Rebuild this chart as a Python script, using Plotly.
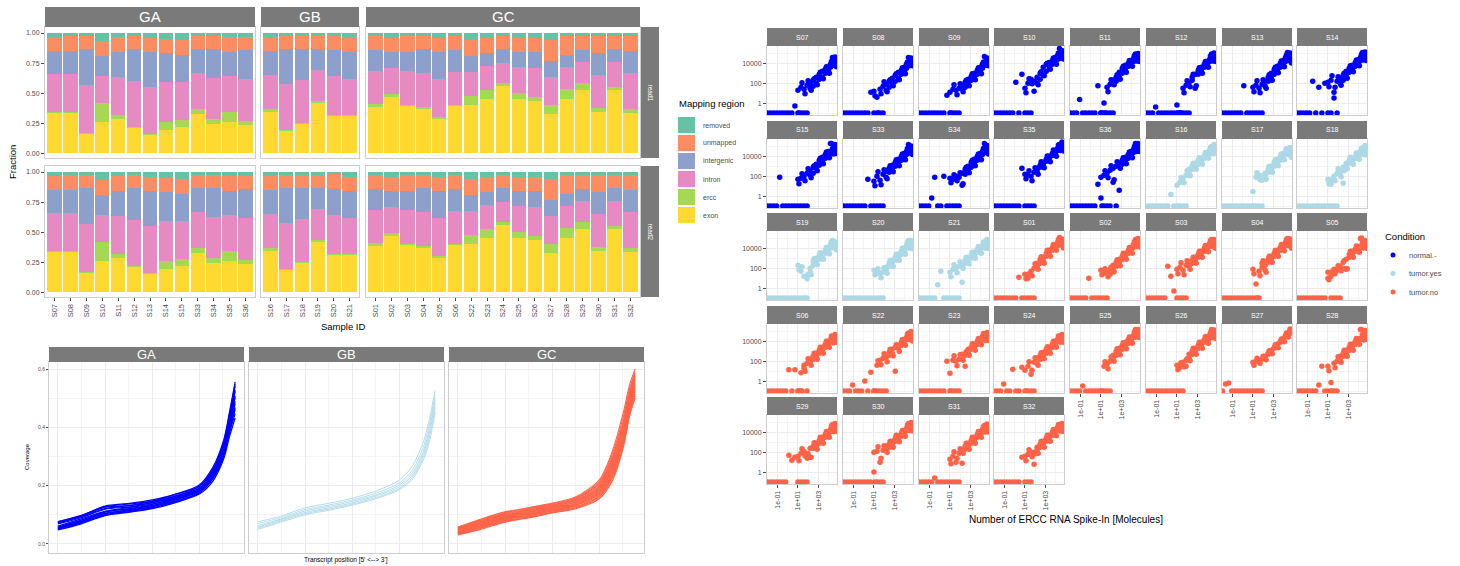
import plotly.graph_objects as go

W, H = 1460, 566
FONT = "Liberation Sans, Arial, sans-serif"
TICK_COL = "#4D4D4D"
STRIP_COL = "#7A7A7A"
BORDER_COL = "#CDCDCD"
GRID_COL = "#EBEBEB"
MINOR_COL = "#F4F4F4"

# ---------------- Mapping region fractions (read1 and read2 identical) ----------------
ga_samples = ["S07", "S08", "S09", "S10", "S11", "S12", "S13", "S14", "S15", "S33", "S34", "S35", "S36"]
gb_samples = ["S16", "S17", "S18", "S19", "S20", "S21"]
gc_samples = ["S01", "S02", "S03", "S04", "S05", "S06", "S22", "S23", "S24", "S25", "S26", "S27",
              "S28", "S29", "S30", "S31", "S32"]
read_rows = ["read1", "read2"]

exon = [.337, .337, .166, .260, .282, .213, .152, .193, .218, .330, .246, .260, .232,
        .345, .185, .250, .415, .315, .310,
        .383, .467, .397, .372, .290, .400, .400, .455, .558, .453, .433, .322, .453, .525, .344, .525, .336]
ercc = [.008, .008, .005, .160, .033, .007, .011, .067, .058, .040, .041, .080, .036,
        .020, .008, .004, .020, .005, .008,
        .027, .023, .008, .014, .010, .005, .075, .075, .022, .044, .037, .083, .083, .061, .028, .028, .034]
intron = [.310, .310, .400, .220, .320, .380, .387, .330, .314, .298, .340, .300, .352,
          .285, .384, .354, .255, .320, .302,
          .273, .220, .278, .284, .314, .270, .200, .195, .173, .220, .235, .231, .181, .175, .275, .208, .300]
intergenic = [.199, .199, .300, .170, .205, .270, .290, .240, .230, .199, .240, .205, .240,
              .204, .290, .262, .177, .217, .220,
              .172, .135, .162, .200, .231, .183, .135, .111, .111, .128, .137, .131, .097, .094, .183, .109, .180]
unmapped = [.116, .118, .108, .126, .127, .108, .120, .120, .120, .105, .105, .118, .110,
            .116, .111, .108, .105, .123, .120,
            .117, .115, .127, .105, .115, .117, .130, .124, .111, .115, .118, .175, .158, .120, .145, .102, .125]
removed = [.030, .028, .021, .064, .033, .022, .040, .050, .060, .028, .028, .037, .030,
           .030, .022, .022, .028, .020, .040,
           .028, .040, .028, .025, .040, .025, .060, .040, .025, .040, .040, .058, .028, .025, .025, .028, .025]

region_order = ["exon", "ercc", "intron", "intergenic", "unmapped", "removed"]
region_values = {"exon": exon, "ercc": ercc, "intron": intron, "intergenic": intergenic,
                 "unmapped": unmapped, "removed": removed}
region_colors = {"removed": "#66C2A5", "unmapped": "#FC8D62", "intergenic": "#8DA0CB",
                 "intron": "#E78AC3", "ercc": "#A6D854", "exon": "#FFD92F"}
legend_order = ["removed", "unmapped", "intergenic", "intron", "ercc", "exon"]

# ---------------- Gene body coverage ----------------
cov_x = [0, 12, 25, 38, 50, 62, 75, 82, 88, 91, 94]
cov_GA = [
    [0.048, 0.068, 0.097, 0.109, 0.121, 0.141, 0.171, 0.214, 0.293, 0.368, 0.432],
    [0.050, 0.071, 0.101, 0.111, 0.124, 0.144, 0.175, 0.221, 0.302, 0.381, 0.447],
    [0.052, 0.073, 0.099, 0.115, 0.128, 0.146, 0.177, 0.223, 0.306, 0.386, 0.462],
    [0.053, 0.076, 0.105, 0.114, 0.127, 0.150, 0.181, 0.228, 0.309, 0.392, 0.468],
    [0.055, 0.077, 0.104, 0.118, 0.132, 0.151, 0.183, 0.231, 0.316, 0.398, 0.481],
    [0.056, 0.081, 0.109, 0.121, 0.131, 0.154, 0.183, 0.232, 0.321, 0.407, 0.489],
    [0.058, 0.080, 0.111, 0.120, 0.136, 0.155, 0.187, 0.237, 0.324, 0.412, 0.503],
    [0.061, 0.085, 0.112, 0.125, 0.137, 0.158, 0.188, 0.240, 0.331, 0.418, 0.508],
    [0.069, 0.089, 0.119, 0.127, 0.141, 0.159, 0.191, 0.243, 0.334, 0.427, 0.522],
    [0.072, 0.093, 0.121, 0.131, 0.142, 0.163, 0.192, 0.246, 0.342, 0.431, 0.528],
    [0.073, 0.094, 0.126, 0.132, 0.146, 0.164, 0.197, 0.251, 0.344, 0.438, 0.541],
    [0.076, 0.097, 0.127, 0.137, 0.147, 0.169, 0.198, 0.254, 0.352, 0.446, 0.548],
    [0.077, 0.096, 0.130, 0.139, 0.151, 0.170, 0.202, 0.261, 0.358, 0.452, 0.556],
]
cov_GB = [
    [0.050, 0.074, 0.100, 0.116, 0.133, 0.154, 0.186, 0.222, 0.292, 0.352, 0.452],
    [0.054, 0.078, 0.104, 0.120, 0.137, 0.158, 0.190, 0.229, 0.302, 0.366, 0.468],
    [0.058, 0.082, 0.108, 0.124, 0.141, 0.163, 0.196, 0.236, 0.312, 0.381, 0.483],
    [0.063, 0.085, 0.113, 0.129, 0.146, 0.167, 0.202, 0.244, 0.323, 0.396, 0.497],
    [0.070, 0.090, 0.118, 0.134, 0.151, 0.173, 0.209, 0.254, 0.338, 0.412, 0.512],
    [0.076, 0.095, 0.124, 0.140, 0.157, 0.180, 0.219, 0.268, 0.355, 0.430, 0.528],
]
cov_GC = [
    [0.031, 0.050, 0.075, 0.090, 0.106, 0.120, 0.155, 0.218, 0.338, 0.437, 0.500],
    [0.033, 0.053, 0.077, 0.092, 0.108, 0.123, 0.160, 0.225, 0.345, 0.445, 0.508],
    [0.034, 0.055, 0.080, 0.094, 0.109, 0.125, 0.163, 0.231, 0.352, 0.451, 0.514],
    [0.036, 0.057, 0.082, 0.097, 0.112, 0.127, 0.166, 0.236, 0.357, 0.457, 0.521],
    [0.037, 0.059, 0.084, 0.098, 0.113, 0.130, 0.170, 0.242, 0.364, 0.462, 0.527],
    [0.039, 0.061, 0.086, 0.101, 0.115, 0.132, 0.173, 0.247, 0.369, 0.468, 0.533],
    [0.040, 0.063, 0.088, 0.102, 0.117, 0.134, 0.177, 0.253, 0.376, 0.474, 0.538],
    [0.042, 0.065, 0.090, 0.104, 0.119, 0.137, 0.180, 0.258, 0.381, 0.480, 0.544],
    [0.043, 0.067, 0.092, 0.106, 0.121, 0.139, 0.184, 0.264, 0.388, 0.486, 0.550],
    [0.045, 0.069, 0.094, 0.109, 0.123, 0.142, 0.188, 0.270, 0.394, 0.492, 0.555],
    [0.047, 0.071, 0.096, 0.111, 0.125, 0.144, 0.191, 0.275, 0.401, 0.497, 0.561],
    [0.048, 0.073, 0.098, 0.113, 0.127, 0.147, 0.195, 0.281, 0.407, 0.503, 0.566],
    [0.050, 0.075, 0.100, 0.115, 0.129, 0.149, 0.199, 0.287, 0.414, 0.509, 0.572],
    [0.052, 0.077, 0.103, 0.117, 0.132, 0.152, 0.204, 0.294, 0.421, 0.515, 0.578],
    [0.054, 0.080, 0.105, 0.120, 0.134, 0.154, 0.209, 0.301, 0.430, 0.522, 0.584],
    [0.056, 0.082, 0.108, 0.122, 0.137, 0.157, 0.214, 0.310, 0.443, 0.531, 0.591],
    [0.058, 0.085, 0.110, 0.125, 0.140, 0.160, 0.220, 0.320, 0.458, 0.545, 0.600],
]

# ---------------- ERCC spike-in: log10 molecules vs log10 observed (None = not detected) ----------------
ercc_log10_molecules = [-2.0, -1.7, -1.4, -1.1, -0.8, -0.5, -0.2, 0.1, 0.4, 0.7,
                        1.0, 1.0, 1.3, 1.3, 1.6, 1.6, 1.9, 1.9, 2.2, 2.2, 2.5, 2.5, 2.8, 2.8, 3.1, 3.1,
                        3.4, 3.4, 3.7, 3.7, 4.0, 4.0, 4.2, 4.2, 4.4, 4.4, 4.6, 4.6, 4.75, 4.75]
ercc_log10_molecules_b = [1.1, 1.4, 1.7, 2.0, 2.3, 2.6, 2.9, 3.2, 3.5, 3.8, 4.1, 4.3, 4.5, 4.65, 4.8]
Z = None
ercc_log10_counts = {
    "S07": [Z, Z, Z, Z, Z, Z, Z, Z, Z, -0.3, Z, 1.3, Z, 1.6, Z, 1.4, Z, 1.8, 1.5, 2.0, 1.7, 2.3, 2.0, 2.6, 2.4, 2.9, 2.6, 3.2, 3.0, 3.4, 3.3, 3.6, 3.6, 3.9, 3.9, 4.6, 4.1, 4.3, 3.9, 4.3],
    "S08": [Z, Z, Z, Z, Z, Z, Z, Z, Z, 1.1, Z, 1.2, 0.6, Z, Z, 1.4, Z, 1.7, 1.3, 1.9, 1.6, 2.2, 1.9, 2.5, 2.2, 2.8, 2.5, 3.1, 2.9, 3.3, 3.2, 3.6, 3.5, 3.9, 3.8, 4.6, 4.0, 4.2, 4.1, 4.3],
    "S09": [Z, Z, Z, Z, Z, Z, Z, Z, Z, 0.8, Z, 1.1, Z, 1.4, Z, 1.3, Z, 1.5, 1.4, 1.8, 1.6, 2.1, 2.0, 2.4, 2.3, 2.7, 2.6, 3.0, 2.9, 3.3, 3.2, 3.6, 3.5, 3.9, 3.8, 4.7, 4.0, 4.2, 4.1, 4.3],
    "S10": [Z, Z, Z, Z, Z, Z, Z, 2.1, Z, 2.9, Z, 1.5, Z, 2.0, Z, 2.4, 1.2, 2.2, 2.0, 2.6, 2.4, 3.0, 2.8, 3.6, 3.2, 3.9, 3.6, 4.1, 3.9, 4.3, 4.1, 4.6, 4.4, 4.8, 4.5, 5.5, 4.7, 5.0, 4.8, 5.0],
    "S11": [Z, Z, Z, 0.35, Z, Z, Z, Z, Z, 1.75, Z, Z, 0.0, Z, Z, 1.6, Z, 1.9, Z, 2.3, 2.2, 2.6, 2.6, 3.1, 3.0, 3.5, 3.3, 3.8, 3.7, 4.0, 4.0, 4.3, 4.2, 4.5, 4.4, 4.95, 4.5, 4.6, 4.6, 4.7],
    "S12": [Z, Z, Z, -0.4, Z, Z, Z, Z, Z, Z, -0.2, Z, Z, Z, Z, 1.5, Z, 1.8, Z, 2.1, 2.3, 2.6, 1.5, 2.9, 2.9, 3.3, 3.3, 3.6, 3.6, 3.9, 3.9, 4.2, 4.2, 4.4, 4.4, 4.95, 4.5, 4.7, 4.6, 4.7],
    "S13": [Z, Z, Z, Z, Z, Z, Z, 1.75, Z, Z, 1.6, Z, 1.8, Z, 1.5, Z, 1.9, Z, 1.7, 2.2, 2.2, 2.6, 2.5, 3.0, 2.9, 3.4, 3.3, 3.7, 3.6, 4.0, 3.9, 4.3, 4.2, 4.6, 4.4, 5.1, 4.5, 4.7, 4.4, 4.6],
    "S14": [Z, Z, Z, Z, Z, 2.2, Z, 1.6, Z, 2.0, 2.1, Z, 2.3, Z, 1.1, 0.5, Z, 2.2, 2.0, 2.5, 2.3, 2.8, 2.7, 3.2, 3.1, 3.5, 3.4, 3.8, 3.7, 4.1, 4.0, 4.4, 4.3, 4.6, 4.5, 5.1, 4.6, 4.8, 4.7, 4.8],
    "S15": [Z, Z, Z, Z, 1.9, Z, Z, Z, Z, Z, 1.7, Z, 1.8, Z, 2.0, Z, 2.3, Z, 2.1, 2.5, 2.3, 2.9, 2.8, 3.2, 3.1, 3.6, 3.5, 3.9, 3.8, 4.2, 4.1, 4.5, 4.4, 5.3, 4.6, 4.8, 4.7, 4.7, 4.8, 4.7],
    "S33": [Z, Z, Z, Z, Z, Z, Z, Z, 1.7, Z, 1.5, Z, 2.0, Z, 1.6, Z, 2.2, Z, 1.9, 2.5, 2.4, 2.8, 2.7, 3.1, 3.0, 3.4, 3.3, 3.7, 3.6, 4.0, 3.9, 4.3, 4.2, 4.5, 4.4, 5.2, 4.6, 4.6, 4.7, 4.6],
    "S34": [Z, Z, Z, Z, -0.2, 1.9, Z, Z, 2.0, Z, 1.8, Z, 1.7, Z, 2.0, Z, 1.9, Z, 1.1, 2.3, 2.2, 2.7, 2.6, 3.0, 2.9, 3.4, 3.3, 3.7, 3.6, 4.0, 3.9, 4.3, 4.2, 4.5, 4.4, 5.3, 4.6, 4.7, 4.7, 4.7],
    "S35": [Z, Z, Z, Z, Z, Z, Z, Z, Z, 2.8, 2.2, Z, 2.1, Z, 2.0, Z, 2.4, Z, 2.5, 2.8, 2.9, 3.1, 3.2, 3.4, 3.5, 3.7, 3.8, 4.0, 4.1, 4.3, 4.3, 4.6, 4.6, 4.8, 4.9, 5.2, 4.9, 5.1, 5.0, 5.0],
    "S36": [Z, Z, Z, Z, Z, Z, Z, Z, Z, 1.2, -0.2, 1.9, Z, 2.1, Z, 2.3, Z, 2.6, 1.4, 2.8, Z, 3.0, 0.6, 3.3, 3.2, 3.6, 3.5, 3.9, 3.8, 4.2, 4.1, 4.5, 4.4, 4.7, 4.6, 5.3, 4.8, 4.9, 4.9, 5.0],
    "S16": [Z, Z, Z, Z, Z, Z, Z, Z, 0.15, Z, 1.1, Z, 1.4, Z, 1.8, Z, 2.1, Z, 2.3, 2.7, 2.7, 3.0, 3.0, 3.3, 3.2, 3.6, 3.5, 3.8, 3.8, 4.1, 4.1, 4.4, 4.3, 4.6, 4.5, 5.0, 4.7, 4.8, 4.8, 4.8],
    "S17": [Z, Z, Z, Z, Z, Z, Z, Z, Z, Z, 0.45, Z, 1.9, Z, 2.1, Z, 1.6, Z, 2.3, 2.0, 2.4, 2.7, 2.7, 3.0, 3.0, 3.4, 3.3, 3.7, 3.6, 4.0, 3.9, 4.3, 4.2, 4.5, 4.5, 4.8, 4.5, 4.4, 4.4, 4.3],
    "S18": [Z, Z, Z, Z, Z, Z, Z, Z, Z, Z, 1.7, Z, 1.2, Z, 2.0, Z, 2.3, Z, 2.6, 2.2, 2.9, 1.3, 3.1, 3.3, 3.3, 3.6, 3.5, 3.8, 3.8, 4.0, 4.0, 4.3, 4.3, 4.5, 4.5, 4.8, 4.6, 4.7, 4.6, 4.6],
    "S19": [Z, Z, Z, Z, Z, Z, Z, Z, Z, Z, 2.3, Z, 1.7, Z, 1.2, Z, 0.95, Z, 2.0, 1.6, 2.3, 2.7, 2.6, 3.0, 2.9, 3.3, 3.2, 3.5, 3.5, 3.8, 3.7, 4.1, 4.0, 4.4, 4.3, 4.8, 4.3, 4.1, 4.4, 4.2],
    "S20": [Z, Z, Z, Z, Z, Z, Z, Z, Z, Z, 1.8, Z, 1.5, Z, 1.5, Z, 1.6, Z, 1.8, 2.1, 2.2, 2.5, 2.5, 2.8, 2.8, 3.1, 3.1, 3.4, 3.4, 3.7, 3.7, 4.0, 4.0, 4.3, 4.2, 4.8, 4.4, 4.3, 4.5, 4.3],
    "S21": [Z, Z, Z, Z, Z, Z, 0.33, 1.7, Z, Z, 1.6, Z, 1.9, Z, 2.0, Z, 2.2, Z, 0.6, 2.4, 2.5, 2.8, 2.8, 3.0, 3.0, 3.3, 3.3, 3.6, 3.6, 3.9, 3.8, 4.1, 4.1, 4.3, 4.3, 4.6, 4.4, 4.5, 4.5, 4.4],
    "S01": [Z, Z, Z, Z, Z, Z, Z, Z, 1.1, Z, 1.4, Z, 1.0, Z, 1.7, Z, 2.0, Z, 2.2, 2.5, 2.5, 2.9, 2.8, 3.1, 3.2, 3.5, 3.5, 3.8, 3.8, 4.1, 4.1, 4.4, 4.3, 4.6, 4.5, 5.1, 4.6, 4.4, 4.7, 4.3],
    "S02": [Z, Z, Z, Z, Z, Z, 1.0, Z, Z, Z, 1.8, Z, 1.5, Z, 1.6, Z, 1.4, 1.9, 1.9, 2.3, 2.2, 2.6, 2.5, 2.9, 2.9, 3.2, 3.2, 3.5, 3.5, 3.8, 3.8, 4.1, 4.1, 4.4, 4.4, 4.9, 4.5, 4.6, 4.6, 4.6],
    "S03": [Z, Z, Z, Z, Z, Z, Z, 2.2, 1.2, -0.3, 1.9, Z, 2.1, Z, 1.8, Z, 2.3, Z, 2.2, 2.5, 2.5, 2.8, 2.8, 3.1, 3.1, 3.4, 3.4, 3.7, 3.7, 4.0, 4.0, 4.2, 4.2, 4.5, 4.4, 4.9, 4.5, 4.4, 4.6, 4.3],
    "S04": [Z, Z, Z, Z, Z, Z, Z, Z, Z, Z, 1.9, Z, 0.4, Z, 1.7, Z, 2.1, 2.5, 2.3, 1.8, 2.6, 2.9, 2.9, 3.2, 3.2, 3.5, 3.5, 3.8, 3.8, 4.1, 4.1, 4.3, 4.3, 4.6, 4.5, 5.0, 4.6, 4.4, 4.6, 4.3],
    "S05": [Z, Z, Z, Z, Z, Z, Z, Z, Z, Z, 1.6, 1.0, 1.2, Z, 1.9, Z, 1.8, Z, 2.2, Z, 2.6, 2.0, 2.9, 1.9, 3.1, 3.4, 3.4, 3.7, 3.7, 3.9, 3.9, 4.2, 4.2, 5.0, 4.4, 4.6, 4.5, 4.2, 4.6, 4.3],
    "S06": [Z, Z, Z, Z, Z, Z, Z, 1.15, Z, 1.15, Z, Z, 0.85, Z, 1.3, 1.6, Z, 1.8, 1.9, 2.2, 2.2, 2.5, 2.5, 2.8, 2.8, 3.1, 3.1, 3.4, 3.4, 3.7, 3.7, 4.0, 4.0, 4.2, 4.2, 4.45, 4.3, 4.2, 4.4, 4.3],
    "S22": [Z, Z, Z, -0.4, Z, Z, Z, 0.0, Z, 0.9, Z, Z, Z, 1.6, Z, 2.1, Z, 2.3, Z, 2.4, 2.6, 2.9, 2.8, 3.2, 1.0, 3.4, 3.3, 3.6, 3.6, 3.9, 3.9, 4.2, 4.2, 4.4, 4.5, 4.85, 4.6, 4.5, 4.6, 4.4],
    "S23": [Z, Z, Z, Z, Z, Z, Z, Z, Z, 2.0, 0.8, Z, 2.1, Z, 2.0, Z, 2.2, Z, 2.4, 2.7, 2.6, 1.5, 2.9, 3.2, 3.2, 3.4, 3.4, 3.7, 3.7, 4.0, 4.0, 4.2, 4.2, 4.5, 4.4, 4.7, 4.5, 4.4, 4.6, 4.5],
    "S24": [Z, Z, Z, -0.3, Z, Z, 1.2, Z, Z, 1.4, Z, 1.1, Z, 1.5, Z, 0.7, Z, 1.9, 1.8, 2.3, 2.2, 2.6, 2.5, 2.9, 2.8, 3.2, 3.1, 3.4, 3.4, 3.7, 3.7, 4.0, 4.0, 4.2, 4.2, 4.5, 4.3, 4.2, 4.4, 4.3],
    "S25": [Z, Z, Z, Z, -0.5, Z, Z, Z, Z, Z, Z, Z, 1.5, Z, 1.7, Z, 2.0, Z, 2.3, 2.6, 2.6, 3.0, 2.9, 3.3, 3.2, 3.6, 3.5, 3.9, 3.8, 4.2, 4.1, 4.4, 4.4, 4.6, 4.6, 5.2, 4.7, 4.8, 4.8, 4.9],
    "S26": [Z, Z, Z, Z, Z, Z, Z, Z, Z, Z, 1.6, Z, 1.4, Z, 1.9, Z, 2.1, 1.5, 2.3, 2.7, 2.7, 3.0, 3.0, 3.3, 3.3, 3.6, 3.6, 3.9, 3.9, 4.2, 4.1, 4.4, 4.3, 4.6, 4.5, 5.2, 4.6, 4.8, 4.7, 4.8],
    "S27": [Z, -0.3, -0.2, Z, Z, Z, Z, Z, Z, Z, 1.9, Z, 2.0, Z, 2.1, Z, 2.2, Z, 2.4, 2.5, 2.7, 2.8, 3.0, 3.1, 3.3, 3.4, 3.6, 3.7, 3.9, 4.0, 4.2, 4.3, 4.5, 4.6, 4.7, 4.8, 4.9, 5.0, 5.1, 5.2],
    "S28": [Z, Z, Z, Z, Z, Z, Z, -0.4, 1.5, Z, 1.5, Z, -0.15, Z, 1.8, Z, 2.0, Z, 2.2, 2.5, 2.5, 2.8, 2.8, 3.1, 3.1, 3.4, 3.4, 3.7, 3.7, 4.0, 4.0, 4.3, 4.3, 5.2, 4.5, 4.7, 4.6, 4.7, 4.7, 4.6],
    "S29": [Z, Z, Z, Z, Z, Z, Z, 1.7, 1.2, 1.5, 1.6, Z, 1.9, Z, 2.1, Z, 1.4, Z, 1.5, 2.4, 2.4, 2.6, 2.6, 2.9, 2.9, 3.2, 3.2, 3.5, 3.5, 3.8, 3.8, 4.1, 4.1, 4.3, 4.3, 4.8, 4.4, 4.5, 4.5, 4.6],
    "S30": [Z, Z, Z, Z, Z, Z, Z, Z, Z, Z, 0.0, 2.0, Z, 2.1, 1.0, Z, 2.2, Z, 2.3, 2.6, 2.5, 2.8, 2.8, 3.1, 3.1, 3.4, 3.4, 3.6, 3.6, 3.9, 3.9, 4.2, 4.2, 4.4, 4.4, 4.9, 4.6, 4.5, 4.6, 4.6],
    "S31": [Z, Z, Z, Z, Z, -0.6, Z, Z, Z, Z, 1.3, Z, 1.6, Z, 1.0, Z, 1.9, Z, 0.9, 2.2, 2.3, 2.6, 2.6, 2.9, 2.9, 3.2, 3.2, 3.5, 3.5, 3.8, 3.8, 4.1, 4.0, 4.3, 4.3, 4.7, 4.4, 4.4, 4.5, 4.5],
    "S32": [Z, Z, Z, Z, Z, Z, Z, Z, Z, 1.5, 1.6, Z, 1.8, Z, 2.0, Z, 0.8, 2.0, 2.2, 2.5, 2.5, 2.8, 2.8, 3.1, 3.1, 3.4, 3.4, 3.7, 3.7, 4.0, 4.0, 4.2, 4.2, 4.5, 4.4, 4.8, 4.5, 4.4, 4.6, 4.5],
}
ercc_log10_counts_b = {
    "S07": [Z, 2.05, 0.95, 2.25, 1.3, 2.45, 1.85, 3.1, 2.45, 3.65, 3.0, 4.2, 3.8, 4.65, 3.65],
    "S08": [0.75, Z, 0.95, 2.15, 1.15, 2.35, 1.75, 2.95, 2.35, 3.55, 2.95, 4.15, 3.75, 4.55, 3.75],
    "S09": [Z, 1.85, 0.85, 1.95, 1.15, 2.3, 1.75, 2.95, 2.35, 3.55, 2.95, 4.15, 3.8, 4.55, 3.75],
    "S10": [1.05, 2.45, 1.95, 2.15, 1.85, 3.15, 2.75, 4.0, 3.4, 4.55, 3.9, 5.05, 4.55, 5.3, 4.45],
    "S11": [Z, Z, 1.15, 2.35, 1.85, 2.85, 2.4, 3.7, 3.1, 4.3, 3.7, 4.8, 4.25, 5.0, 4.2],
    "S12": [Z, Z, 1.05, 2.25, 1.65, 2.9, 1.75, 3.55, 3.0, 4.2, 3.6, 4.75, 4.25, 5.05, 4.2],
    "S13": [1.15, 2.25, 1.05, 2.35, 1.5, 2.85, 2.3, 3.6, 3.05, 4.25, 3.65, 4.85, 4.3, 5.05, 4.05],
    "S14": [1.65, 2.75, 1.6, 2.65, 1.8, 3.0, 2.5, 3.75, 3.15, 4.35, 3.75, 4.9, 4.35, 5.15, 4.3],
    "S15": [1.25, 2.25, 1.55, 2.75, 1.85, 3.05, 2.55, 3.8, 3.25, 4.45, 3.85, 5.3, 4.25, 5.2, 4.3],
    "S33": [1.05, 2.45, 1.15, 2.65, 1.75, 3.05, 2.45, 3.65, 3.05, 4.25, 3.65, 4.8, 4.35, 5.05, 4.2],
    "S34": [1.35, 2.15, 1.55, 2.35, 1.25, 2.9, 2.35, 3.6, 3.05, 4.25, 3.65, 4.8, 4.4, 5.1, 4.25],
    "S35": [1.75, 2.55, 1.55, 2.85, 2.2, 3.45, 2.85, 4.05, 3.45, 4.65, 4.0, 5.15, 4.6, 5.45, 4.55],
    "S36": [Z, 2.55, 1.85, 3.05, 1.65, 3.45, 2.8, 3.85, 3.25, 4.45, 3.85, 5.0, 4.5, 5.3, 4.5],
    "S16": [Z, 1.85, 1.35, 2.55, 2.05, 3.3, 2.7, 3.85, 3.2, 4.4, 3.8, 4.9, 4.3, 5.2, 4.35],
    "S17": [Z, 2.35, 1.65, 2.05, 1.7, 3.0, 2.4, 3.65, 3.05, 4.25, 3.65, 4.8, 4.2, 4.9, 3.9],
    "S18": [1.25, 1.65, 1.55, 2.75, 1.95, 2.55, 2.75, 3.9, 3.2, 4.35, 3.7, 4.85, 4.2, 5.1, 4.15],
    "S19": [1.85, 2.15, Z, 1.4, 1.35, 2.95, 2.35, 3.55, 2.9, 4.1, 3.45, 4.65, 4.1, 4.65, 3.85],
    "S20": [1.35, 1.95, 1.05, 2.05, 1.5, 2.8, 2.2, 3.4, 2.8, 4.0, 3.4, 4.6, 4.05, 4.8, 3.95],
    "S21": [1.15, 2.35, 1.55, 2.65, 2.0, 3.1, 2.45, 3.6, 3.0, 4.2, 3.5, 4.65, 4.0, 4.9, 4.0],
    "S01": [0.95, 1.45, 1.25, 2.45, 1.9, 3.15, 2.5, 3.8, 3.2, 4.4, 3.8, 4.9, 4.35, 4.95, 4.05],
    "S02": [1.35, 1.95, 1.15, 2.1, 1.65, 2.85, 2.25, 3.5, 2.9, 4.1, 3.5, 4.7, 4.2, 5.0, 4.15],
    "S03": [1.45, 2.55, 1.35, 2.75, 1.9, 3.1, 2.5, 3.7, 3.1, 4.3, 3.65, 4.8, 4.2, 4.9, 4.0],
    "S04": [1.45, Z, 1.25, 2.75, 1.6, 3.2, 2.6, 3.8, 3.2, 4.4, 3.75, 4.9, 4.3, 4.95, 4.0],
    "S05": [0.85, 1.65, 1.45, 2.25, 1.75, 2.75, 1.95, 3.7, 3.1, 4.25, 3.6, 5.05, 4.05, 4.8, 4.0],
    "S06": [Z, Z, 1.0, 2.25, 1.6, 2.8, 2.2, 3.4, 2.8, 4.0, 3.4, 4.55, 3.85, 4.7, 3.9],
    "S22": [Z, 2.05, 1.65, 2.75, 1.95, 3.2, 2.55, 3.65, 3.0, 4.2, 3.6, 4.75, 4.2, 5.0, 4.05],
    "S23": [Z, 2.55, 1.55, 2.65, 2.1, 2.95, 2.6, 3.75, 3.1, 4.3, 3.65, 4.8, 4.1, 4.9, 4.1],
    "S24": [Z, 1.95, 1.1, 2.35, 1.6, 2.85, 2.25, 3.45, 2.8, 4.0, 3.4, 4.55, 3.9, 4.7, 3.9],
    "S25": [Z, 1.95, 1.25, 2.45, 2.0, 3.25, 2.65, 3.85, 3.25, 4.45, 3.8, 4.95, 4.45, 5.2, 4.4],
    "S26": [1.15, 1.85, 1.45, 2.25, 2.05, 3.3, 2.7, 3.9, 3.3, 4.5, 3.8, 4.9, 4.4, 5.15, 4.3],
    "S27": [1.6, 2.3, 1.8, 2.5, 2.15, 3.05, 2.75, 3.65, 3.35, 4.25, 3.95, 4.85, 4.45, 5.25, 4.85],
    "S28": [1.05, Z, 1.35, 2.45, 1.9, 3.1, 2.5, 3.7, 3.1, 4.3, 3.7, 5.2, 4.15, 5.1, 4.2],
    "S29": [1.15, 2.35, 1.65, 1.85, 1.5, 2.95, 2.3, 3.5, 2.9, 4.1, 3.5, 4.65, 4.1, 4.9, 4.1],
    "S30": [Z, 2.55, 1.4, 2.65, 2.0, 3.1, 2.5, 3.7, 3.05, 4.2, 3.6, 4.75, 4.2, 5.0, 4.15],
    "S31": [0.85, 2.05, 1.4, 2.35, 1.9, 2.9, 2.3, 3.5, 2.9, 4.1, 3.5, 4.6, 4.05, 4.85, 4.05],
    "S32": [1.15, 2.25, 1.55, 1.85, 1.9, 3.1, 2.5, 3.7, 3.1, 4.3, 3.65, 4.8, 4.15, 4.9, 4.1],
}
for k, v in ercc_log10_counts.items():
    assert len(v) == len(ercc_log10_molecules), (k, len(v))
for k, v in ercc_log10_counts_b.items():
    assert len(v) == len(ercc_log10_molecules_b), (k, len(v))

facet_rows = [
    ["S07", "S08", "S09", "S10", "S11", "S12", "S13", "S14"],
    ["S15", "S33", "S34", "S35", "S36", "S16", "S17", "S18"],
    ["S19", "S20", "S21", "S01", "S02", "S03", "S04", "S05"],
    ["S06", "S22", "S23", "S24", "S25", "S26", "S27", "S28"],
    ["S29", "S30", "S31", "S32"],
]
conditions = ["normal.-", "tumor.yes", "tumor.no"]
condition_colors = {"normal.-": "#0000FF", "tumor.yes": "#ADD8E6", "tumor.no": "#FF6347"}
group_condition = {"GA": "normal.-", "GB": "tumor.yes", "GC": "tumor.no"}

# ---------------- helpers ----------------
layout = {}
traces = []
shapes = []
annotations = []
counter = [0]


def px(p):
    return p / W


def py(p):
    return 1 - p / H


def new_axes(l, r, t, b, xkw, ykw):
    counter[0] += 1
    i = counter[0]
    s = "" if i == 1 else str(i)
    layout["xaxis" + s] = dict(domain=[px(l), px(r)], anchor="y" + s, **xkw)
    layout["yaxis" + s] = dict(domain=[py(b), py(t)], anchor="x" + s, **ykw)
    return "x" + s, "y" + s


def strip(l, r, t, b, text, size, angle=0):
    shapes.append(dict(type="rect", xref="paper", yref="paper", x0=px(l), x1=px(r), y0=py(b), y1=py(t),
                       fillcolor=STRIP_COL, line=dict(width=0), layer="above"))
    annotations.append(dict(xref="paper", yref="paper", x=px((l + r) / 2), y=py((t + b) / 2), text=text,
                            showarrow=False, textangle=angle, xanchor="center", yanchor="middle",
                            font=dict(color="white", size=size, family=FONT)))


def label(x, y, text, size, angle=0, color="#000000", xanchor="center"):
    annotations.append(dict(xref="paper", yref="paper", x=px(x), y=py(y), text=text, showarrow=False,
                            textangle=angle, xanchor=xanchor, yanchor="middle",
                            font=dict(color=color, size=size, family=FONT)))


frame = dict(showline=True, mirror=True, linecolor=BORDER_COL, linewidth=1, zeroline=False, fixedrange=True)

# ---------------- Panel A: stacked bars ----------------
bar_groups = [("GA", ga_samples, 45, 255), ("GB", gb_samples, 261, 359), ("GC", gc_samples, 366, 640)]
bar_rows = [(27, 158), (166, 297)]
offset = 0
for gname, samples, l, r in bar_groups:
    n = len(samples)
    for ri, (t, b) in enumerate(bar_rows):
        bottom = ri == 1
        xkw = dict(type="category", categoryorder="array", categoryarray=samples, range=[-0.6, n - 0.4],
                   showgrid=False, ticks="outside" if bottom else "", ticklen=3, tickcolor=TICK_COL,
                   showticklabels=bottom, tickangle=-90,
                   tickfont=dict(size=7.5, color=TICK_COL, family=FONT), **frame)
        left = gname == "GA"
        ykw = dict(range=[-0.04, 1.05], tickvals=[0, 0.25, 0.5, 0.75, 1.0],
                   ticktext=["0.00", "0.25", "0.50", "0.75", "1.00"], showgrid=False,
                   showticklabels=left, ticks="outside" if left else "", ticklen=3, tickcolor=TICK_COL,
                   tickfont=dict(size=7, color=TICK_COL, family=FONT), **frame)
        xa, ya = new_axes(l, r, t, b, xkw, ykw)
        for reg in region_order:
            traces.append(go.Bar(x=samples, y=region_values[reg][offset:offset + n], width=0.9,
                                 marker=dict(color=region_colors[reg], line=dict(width=0)),
                                 xaxis=xa, yaxis=ya, showlegend=False, hoverinfo="skip"))
    strip(l, r, 7, 27, gname, 15)
    offset += n
for rname, (t, b) in zip(read_rows, bar_rows):
    strip(641, 659, t, b, rname, 6.5, angle=90)
label(12, 162, "Fraction", 9.5, angle=-90)
label(343, 326, "Sample ID", 9.5)

# bar legend
label(677, 104, "Mapping region", 9.5, xanchor="left")
for i, reg in enumerate(legend_order):
    top = 117 + 18 * i
    shapes.append(dict(type="rect", xref="paper", yref="paper", x0=px(678), x1=px(695), y0=py(top + 16),
                       y1=py(top), fillcolor=region_colors[reg], line=dict(width=0)))
    label(701, top + 8, reg, 7, color=TICK_COL, xanchor="left")

# ---------------- Panel B: coverage ----------------
cov_groups = [("GA", cov_GA, 49, 244, 1.2), ("GB", cov_GB, 249, 444, 0.9), ("GC", cov_GC, 449, 644, 1.1)]
for gname, curves, l, r, lw in cov_groups:
    left = gname == "GA"
    xkw = dict(range=[-4.7, 98.7], tickvals=[0, 25, 50, 75, 100], showticklabels=False, ticks="",
               showgrid=True, gridcolor=GRID_COL, gridwidth=1,
               minor=dict(tickvals=[12.5, 37.5, 62.5, 87.5], showgrid=True, gridcolor=MINOR_COL, ticks=""),
               **frame)
    ykw = dict(range=[-0.031, 0.624], tickvals=[0, 0.2, 0.4, 0.6], ticktext=["0.0", "0.2", "0.4", "0.6"],
               showticklabels=left, ticks="outside" if left else "", ticklen=2, tickcolor=TICK_COL,
               tickfont=dict(size=5, color=TICK_COL, family=FONT),
               showgrid=True, gridcolor=GRID_COL, gridwidth=1,
               minor=dict(tickvals=[0.1, 0.3, 0.5], showgrid=True, gridcolor=MINOR_COL, ticks=""), **frame)
    xa, ya = new_axes(l, r, 362, 553, xkw, ykw)
    col = condition_colors[group_condition[gname]]
    for c in curves:
        traces.append(go.Scatter(x=cov_x, y=c, mode="lines",
                                 line=dict(color=col, width=lw, shape="spline", smoothing=0.8),
                                 xaxis=xa, yaxis=ya, showlegend=False, hoverinfo="skip"))
    strip(l, r, 347, 362, gname, 13)
label(27, 457, "Coverage", 6, angle=-90)
label(346, 560, "Transcript position [5' &lt;--&gt; 3']", 6.5)

# ---------------- Panel C: ERCC scatter grid ----------------
col_left = [767, 843, 919, 994, 1070, 1146, 1222, 1297]
row_top = [28, 121, 213, 306, 397]
sample_group = {}
for s in ga_samples:
    sample_group[s] = "GA"
for s in gb_samples:
    sample_group[s] = "GB"
for s in gc_samples:
    sample_group[s] = "GC"

xs = [10 ** v for v in ercc_log10_molecules] + [10 ** v for v in ercc_log10_molecules_b]
for ri, row in enumerate(facet_rows):
    for ci, sid in enumerate(row):
        bottom_row = max(k for k, rr in enumerate(facet_rows) if len(rr) > ci)
        is_bottom = ri == bottom_row
        l = col_left[ci]
        r = l + 70
        t = row_top[ri] + 18
        b = t + 69
        xkw = dict(type="log", range=[-2.05, 4.85], tickvals=[0.1, 10, 1000],
                   ticktext=["1e-01", "1e+01", "1e+03"], showticklabels=is_bottom,
                   ticks="outside" if is_bottom else "", ticklen=3, tickcolor=TICK_COL, tickangle=-90,
                   tickfont=dict(size=7, color=TICK_COL, family=FONT),
                   showgrid=True, gridcolor=GRID_COL, gridwidth=1,
                   minor=dict(tickvals=[0.01, 1, 100, 10000], showgrid=True, gridcolor=MINOR_COL, ticks=""),
                   **frame)
        first = ci == 0
        ykw = dict(type="log", range=[-1.2, 5.75], tickvals=[1, 100, 10000], ticktext=["1", "100", "10000"],
                   showticklabels=first, ticks="outside" if first else "", ticklen=3, tickcolor=TICK_COL,
                   tickfont=dict(size=7, color=TICK_COL, family=FONT),
                   showgrid=True, gridcolor=GRID_COL, gridwidth=1,
                   minor=dict(tickvals=[0.1, 10, 1000, 100000], showgrid=True, gridcolor=MINOR_COL, ticks=""),
                   **frame)
        xa, ya = new_axes(l, r, t, b, xkw, ykw)
        vals = ercc_log10_counts[sid] + ercc_log10_counts_b[sid]
        ys = [10 ** v if v is not None else 0.1 for v in vals]
        col = condition_colors[group_condition[sample_group[sid]]]
        traces.append(go.Scatter(x=xs, y=ys, mode="markers", marker=dict(color=col, size=5.5, line=dict(width=0)),
                                 xaxis=xa, yaxis=ya, showlegend=False, hoverinfo="skip"))
        strip(l, r, row_top[ri], row_top[ri] + 18, sid, 7)
label(1066, 519, "Number of ERCC RNA Spike-In [Molecules]", 10)

# condition legend
label(1383, 236, "Condition", 9.5, xanchor="left")
for i, cond in enumerate(conditions):
    cy = 255 + 18.5 * i
    shapes.append(dict(type="circle", xref="paper", yref="paper", x0=px(1390.5), x1=px(1395.5),
                       y0=py(cy + 2.5), y1=py(cy - 2.5), fillcolor=condition_colors[cond], line=dict(width=0)))
    label(1407, cy, cond, 7.5, color=TICK_COL, xanchor="left")

layout.update(width=W, height=H, margin=dict(l=0, r=0, t=0, b=0), autosize=False,
              paper_bgcolor="white", plot_bgcolor="white", barmode="stack", showlegend=False,
              font=dict(family=FONT), shapes=shapes, annotations=annotations)

fig = go.Figure(data=traces, layout=layout)
fig.write_html("out.html", config={"displayModeBar": False},
               post_script="document.body.style.margin='0px';document.body.style.overflow='hidden';")
